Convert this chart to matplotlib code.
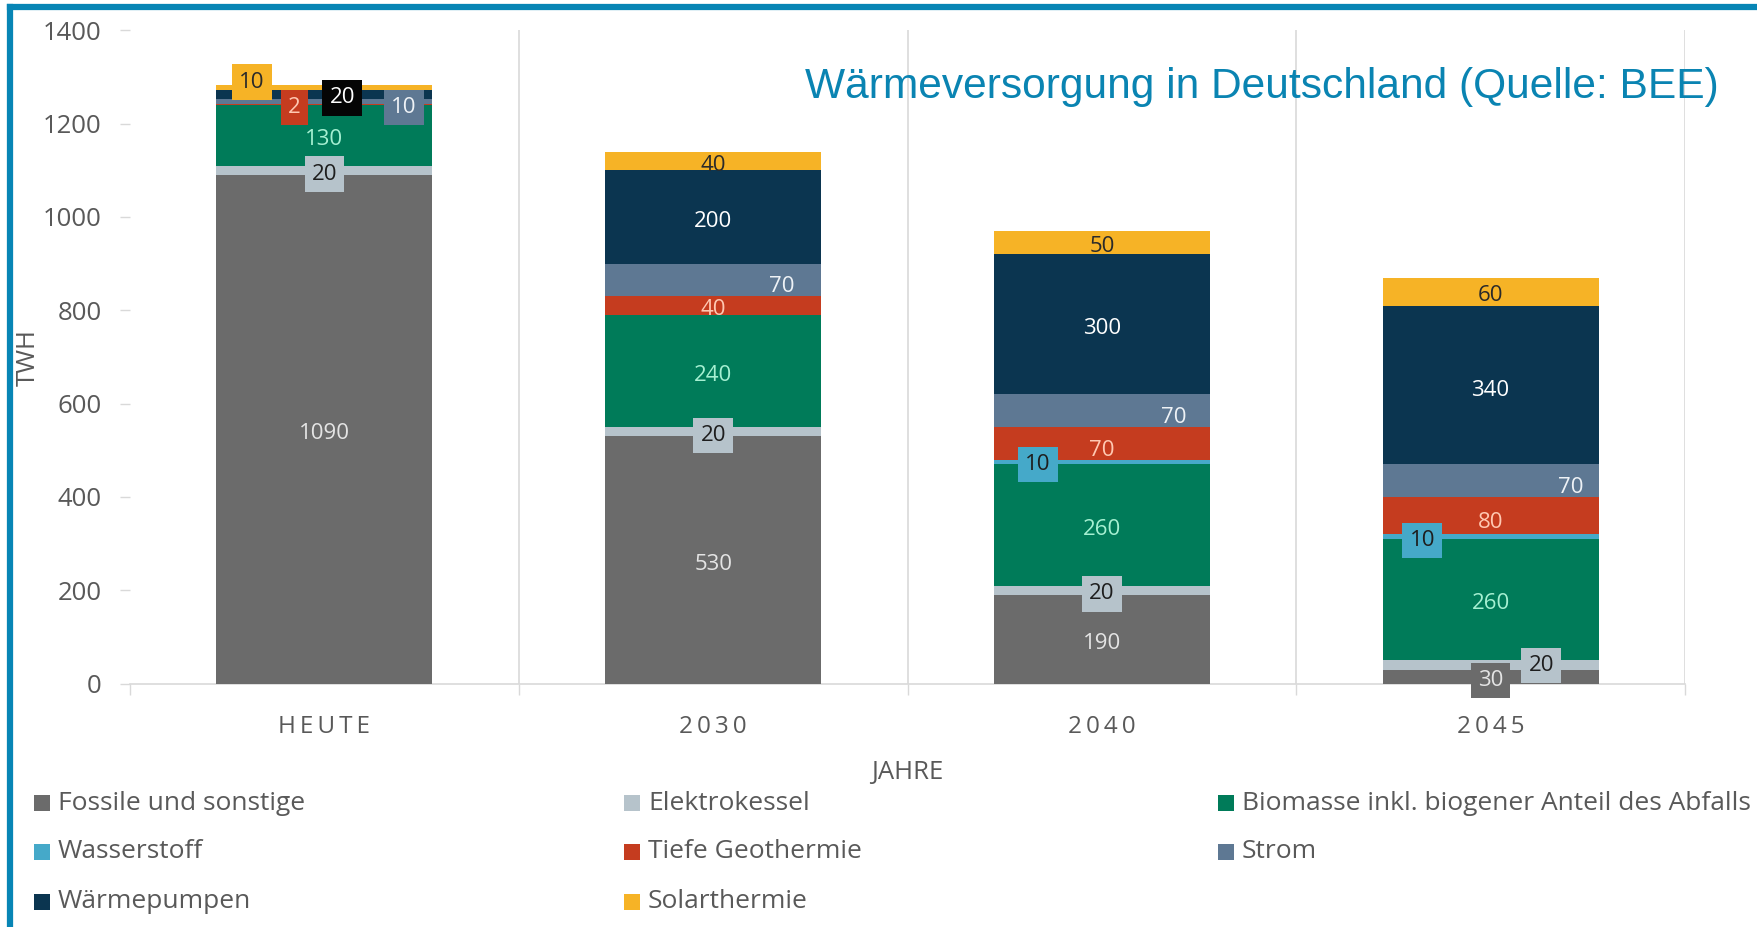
import matplotlib
matplotlib.use("Agg")
import matplotlib.pyplot as plt
from matplotlib.patches import Rectangle
from matplotlib.lines import Line2D
import numpy as np

# ---------------- data ----------------
categories = ["HEUTE", "2030", "2040", "2045"]
series_names = [
    "Fossile und sonstige",
    "Elektrokessel",
    "Biomasse inkl. biogener Anteil des Abfalls",
    "Wasserstoff",
    "Tiefe Geothermie",
    "Strom",
    "Wärmepumpen",
    "Solarthermie",
]
fossile = [1090, 530, 190, 30]
elektrokessel = [20, 20, 20, 20]
biomasse = [130, 240, 260, 260]
wasserstoff = [0, 0, 10, 10]
geothermie = [2, 40, 70, 80]
strom = [10, 70, 70, 70]
waermepumpen = [20, 200, 300, 340]
solarthermie = [10, 40, 50, 60]
yticks = [0, 200, 400, 600, 800, 1000, 1200, 1400]

series_values = [fossile, elektrokessel, biomasse, wasserstoff,
                 geothermie, strom, waermepumpen, solarthermie]

# ---------------- style ----------------
colors = ["#6b6b6b", "#b6c3cb", "#007b59", "#45a9c9",
          "#c53c1f", "#5e7893", "#0b3550", "#f6b326"]
label_colors = ["#e4e4e4", "#1e1e1e", "#a6f0d2", "#1e1e1e",
                "#ffc8b2", "#eef2f6", "#ffffff", "#2a2a2a"]
box_colors = {6: "#050505"}  # WP box in HEUTE is black
FONT = ["Open Sans", "DejaVu Sans"]
GRAY = "#595959"
LIGHT = "#d9d9d9"

# label layout: (series index, category index) -> (dx, dy, boxed)
DEFAULT_DY = -9
label_layout = {
    (1, 0): (0.0, -8, True), (4, 0): (-0.078, -7, True),
    (5, 0): (0.205, -13, True), (6, 0): (0.046, -7, True),
    (7, 0): (-0.187, 12, True),
    (1, 1): (0.0, -8, True), (5, 1): (0.176, -14, False),
    (1, 2): (0.0, -8, True), (3, 2): (-0.164, -5, True),
    (5, 2): (0.184, -14, False), (4, 2): (0.0, -15, False),
    (1, 3): (0.13, -2, True), (3, 3): (-0.176, -8, True),
    (0, 3): (0.0, -8, True), (5, 3): (0.207, -14, False),
    (4, 3): (0.0, -14, False), (6, 3): (0.0, -13, False),
}

W, H = 1757, 927
fig = plt.figure(figsize=(W / 100, H / 100), dpi=100)
fig.patch.set_facecolor("white")
ax = fig.add_axes([130 / W, 1 - 683.5 / H, (1685 - 130) / W, (683.5 - 30.3) / H])

x = np.arange(len(categories))
bar_w = 0.556
bottom = np.zeros(len(categories))
for si, (name, vals) in enumerate(zip(series_names, series_values)):
    vals = np.array(vals, dtype=float)
    ax.bar(x, vals, bar_w, bottom=bottom, color=colors[si], label=name,
           linewidth=0, zorder=3)
    for ci, v in enumerate(vals):
        if v <= 0:
            continue
        dx, dy, boxed = label_layout.get((si, ci), (0.0, DEFAULT_DY, False))
        yc = bottom[ci] + v / 2 + dy
        kw = dict(ha="center", va="center", fontsize=16, family=FONT,
                  color=label_colors[si], zorder=6, clip_on=False)
        if boxed:
            fc = colors[si]
            if si == 6:
                fc = box_colors[6]
            kw["bbox"] = dict(boxstyle="square,pad=0.32", fc=fc, ec="none")
        ax.text(x[ci] + dx, yc, f"{int(v)}", **kw)
    bottom += vals

ax.set_xlim(-0.5, len(categories) - 0.5)
ax.set_ylim(0, 1400)
ax.set_yticks(yticks)
ax.set_yticklabels([str(t) for t in yticks], family=FONT, fontsize=18.5, color=GRAY)
ax.tick_params(axis="y", length=7.5, color=LIGHT, pad=13, width=1)

ax.set_xticks(x)
spaced = ["\u2009".join(list(c)) for c in categories]
ax.set_xticklabels(spaced, family=FONT, fontsize=17.5, color=GRAY)
ax.tick_params(axis="x", length=0, pad=23)
ax.set_xticks(np.arange(-0.5, len(categories)), minor=True)
ax.tick_params(axis="x", which="minor", length=8, color=LIGHT, width=1)

for b in np.arange(0.5, len(categories)):
    ax.axvline(b, color=LIGHT, lw=1.2, zorder=1)
for s in ["left", "right", "top"]:
    ax.spines[s].set_visible(False)
ax.spines["bottom"].set_color(LIGHT)
ax.spines["bottom"].set_linewidth(1.2)

# axis titles
fig.text(907 / W, 1 - 772 / H, "JAHRE", family=FONT, fontsize=18.5,
         color=GRAY, ha="center", va="center")
fig.text(28 / W, 1 - 357 / H, "TWH", family=FONT, fontsize=18.5,
         color=GRAY, ha="center", va="center", rotation=90)

# title
fig.text(805 / W, 1 - 87 / H, "Wärmeversorgung in Deutschland (Quelle: BEE)",
         family=["Liberation Sans", "DejaVu Sans"], fontsize=30.6,
         color="#0a84b2", ha="left", va="center")

# legend (row-major, 3 columns)
col_x = [34, 624, 1218]
row_y = [803, 852, 902]
for i, name in enumerate(series_names):
    r, c = divmod(i, 3)
    sx, sy = col_x[c], row_y[r]
    fig.add_artist(Rectangle((sx / W, 1 - (sy + 8) / H), 16 / W, 16 / H,
                             transform=fig.transFigure, color=colors[i], lw=0))
    fig.text((sx + 24) / W, 1 - sy / H, name, family=FONT, fontsize=19,
             color=GRAY, ha="left", va="center")

# blue frame (left & top)
bc = "#0785b5"
fig.add_artist(Line2D([10 / W, 10 / W], [0, 1 - 7 / H], transform=fig.transFigure,
                      color=bc, lw=4.5, solid_capstyle="projecting"))
fig.add_artist(Line2D([10 / W, 1], [1 - 7 / H, 1 - 7 / H], transform=fig.transFigure,
                      color=bc, lw=4.5, solid_capstyle="projecting"))

fig.savefig("out.png", dpi=100)
